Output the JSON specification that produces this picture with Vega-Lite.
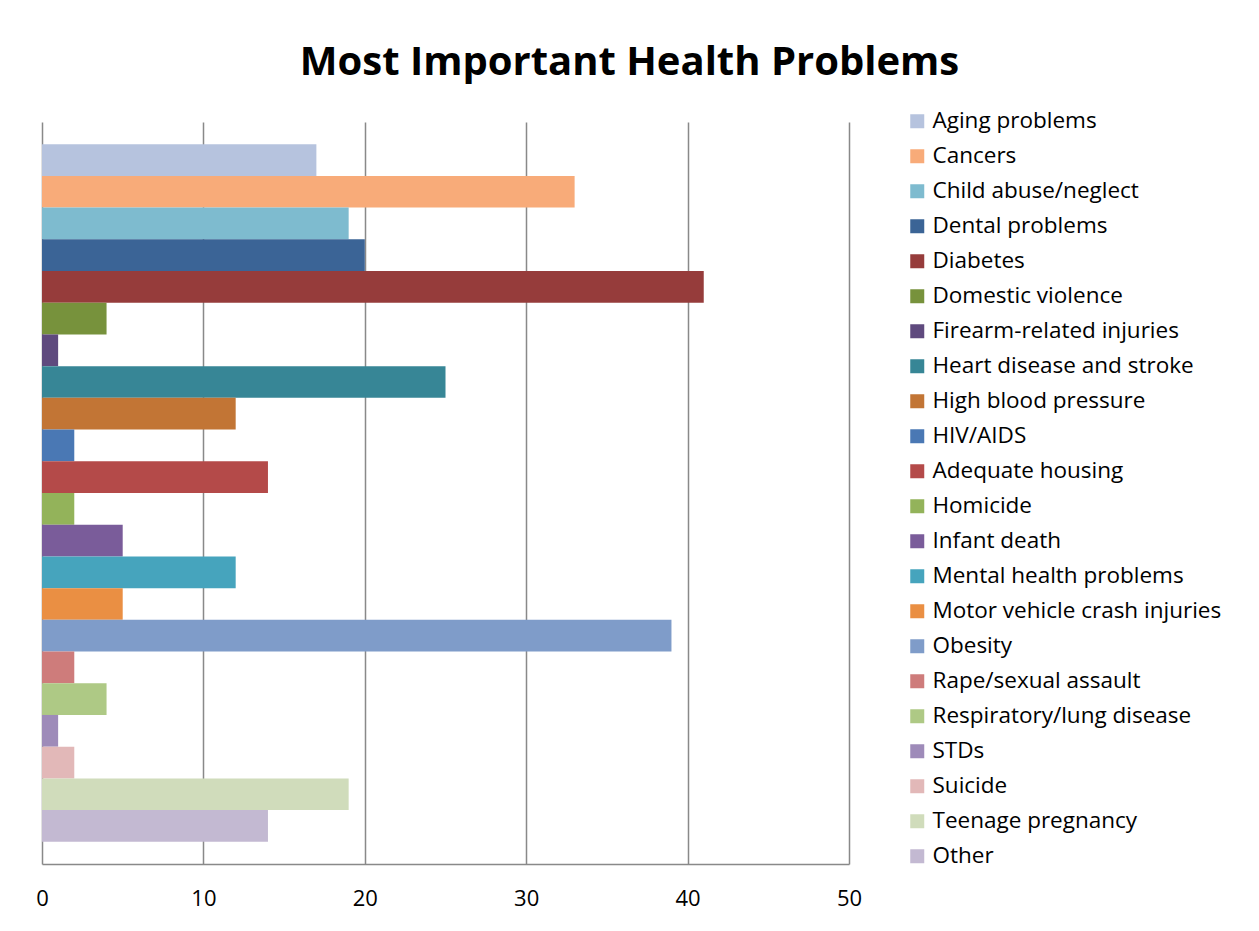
{
  "$schema": "https://vega.github.io/schema/vega-lite/v6.json",
  "autosize": {"type": "none"},
  "width": 807,
  "height": 742,
  "padding": {"left": 42, "top": 122, "right": 410, "bottom": 67},
  "background": "white",
  "title": {
    "text": "Most Important Health Problems",
    "font": "Open Sans",
    "fontSize": 40,
    "fontWeight": "bold",
    "color": "#000000",
    "anchor": "middle",
    "baseline": "alphabetic",
    "offset": -5,
    "dx": 184
  },
  "data": {
    "values": [
      {"problem": "Aging problems", "count": 17},
      {"problem": "Cancers", "count": 33},
      {"problem": "Child abuse/neglect", "count": 19},
      {"problem": "Dental problems", "count": 20},
      {"problem": "Diabetes", "count": 41},
      {"problem": "Domestic violence", "count": 4},
      {"problem": "Firearm-related injuries", "count": 1},
      {"problem": "Heart disease and stroke", "count": 25},
      {"problem": "High blood pressure", "count": 12},
      {"problem": "HIV/AIDS", "count": 2},
      {"problem": "Adequate housing", "count": 14},
      {"problem": "Homicide", "count": 2},
      {"problem": "Infant death", "count": 5},
      {"problem": "Mental health problems", "count": 12},
      {"problem": "Motor vehicle crash injuries", "count": 5},
      {"problem": "Obesity", "count": 39},
      {"problem": "Rape/sexual assault", "count": 2},
      {"problem": "Respiratory/lung disease", "count": 4},
      {"problem": "STDs", "count": 1},
      {"problem": "Suicide", "count": 2},
      {"problem": "Teenage pregnancy", "count": 19},
      {"problem": "Other", "count": 14}
    ]
  },
  "mark": {"type": "bar", "cornerRadius": 0},
  "encoding": {
    "y": {
      "field": "problem",
      "type": "nominal",
      "sort": null,
      "scale": {"paddingInner": 0, "paddingOuter": 0.7},
      "axis": null
    },
    "x": {
      "field": "count",
      "type": "quantitative",
      "scale": {"domain": [0, 50], "nice": false, "zero": true},
      "axis": {
        "values": [0, 10, 20, 30, 40, 50],
        "title": null,
        "grid": true,
        "gridColor": "#898989",
        "gridWidth": 1.5,
        "domain": true,
        "domainColor": "#898989",
        "domainWidth": 1.5,
        "ticks": false,
        "labelPadding": 24,
        "labelFont": "Open Sans",
        "labelFontSize": 22,
        "labelColor": "#000000",
        "labelFlush": false
      }
    },
    "color": {
      "field": "problem",
      "type": "nominal",
      "sort": null,
      "scale": {
        "domain": ["Aging problems", "Cancers", "Child abuse/neglect", "Dental problems", "Diabetes", "Domestic violence", "Firearm-related injuries", "Heart disease and stroke", "High blood pressure", "HIV/AIDS", "Adequate housing", "Homicide", "Infant death", "Mental health problems", "Motor vehicle crash injuries", "Obesity", "Rape/sexual assault", "Respiratory/lung disease", "STDs", "Suicide", "Teenage pregnancy", "Other"],
        "range": ["#B6C3DE", "#F8AB79", "#7EBBCF", "#3B6496", "#963C3B", "#77923C", "#5F4A7E", "#378696", "#C27535", "#4A78B4", "#B44A49", "#93B35A", "#7A5C9A", "#46A4BD", "#EA8F43", "#7F9CC9", "#CE7C7B", "#AEC985", "#9E8BB9", "#E2B8B8", "#D0DCBB", "#C3B9D2"]
      },
      "legend": {
        "title": null,
        "orient": "none",
        "legendX": 864,
        "legendY": -12,
        "padding": 0,
        "symbolType": "square",
        "symbolSize": 196,
        "symbolStrokeWidth": 0,
        "labelFont": "Open Sans",
        "labelFontSize": 22.5,
        "labelColor": "#000000",
        "labelOffset": 4,
        "rowPadding": 12,
        "labelLimit": 400
      }
    }
  },
  "config": {
    "view": {"stroke": null}
  }
}
